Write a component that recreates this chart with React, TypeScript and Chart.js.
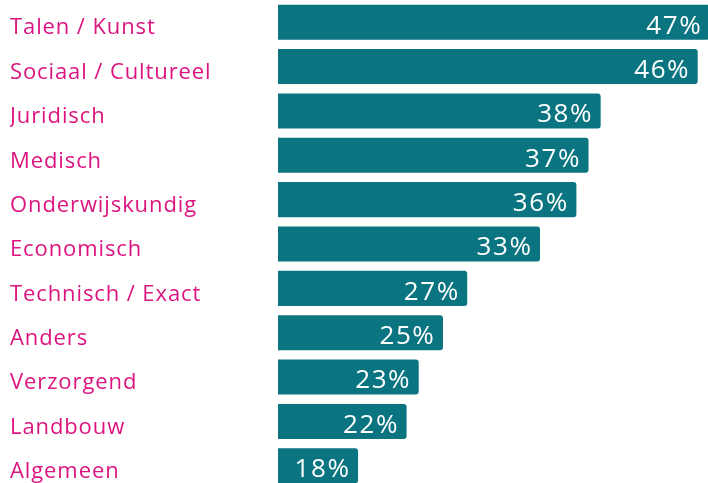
import React, { useEffect, useRef } from "react";
import { Chart, registerables } from "chart.js";

Chart.register(...registerables);

const categories = [
  "Talen / Kunst",
  "Sociaal / Cultureel",
  "Juridisch",
  "Medisch",
  "Onderwijskundig",
  "Economisch",
  "Technisch / Exact",
  "Anders",
  "Verzorgend",
  "Landbouw",
  "Algemeen",
];
const values = [47, 46, 38, 37, 36, 33, 27, 25, 23, 22, 18];

const BAR_COLOR = "#0A7580";
const LABEL_COLOR = "#DC147F";
const FONT = "'Open Sans', Lato, sans-serif";

const spacing = {
  id: "spacing",
  beforeDraw(chart: any) {
    chart.ctx.letterSpacing = "0.9px";
  },
};

const valueLabels = {
  id: "valueLabels",
  afterDatasetsDraw(chart: any) {
    const ctx = chart.ctx;
    const meta = chart.getDatasetMeta(0);
    ctx.save();
    ctx.letterSpacing = "1.6px";
    ctx.fillStyle = "#ffffff";
    ctx.font = `400 26px ${FONT}`;
    ctx.textAlign = "right";
    ctx.textBaseline = "middle";
    meta.data.forEach((bar: any, i: number) => {
      const v = chart.data.datasets[0].data[i];
      ctx.fillText(`${v}%`, bar.x - 7.5, bar.y + 4);
    });
    ctx.restore();
  },
};

export default function App() {
  const ref = useRef<HTMLCanvasElement>(null);
  useEffect(() => {
    document.body.style.margin = "0";
    const chart = new Chart(ref.current!, {
      type: "bar",
      data: {
        labels: categories,
        datasets: [
          {
            data: values,
            backgroundColor: BAR_COLOR,
            borderRadius: { topRight: 3, bottomRight: 3, topLeft: 0, bottomLeft: 0 },
            borderSkipped: false,
            categoryPercentage: 1,
            barPercentage: 0.79,
          },
        ],
      },
      options: {
        indexAxis: "y",
        responsive: false,
        animation: false,
        layout: { padding: { left: 10, top: 0, right: 0, bottom: 0 } },
        plugins: { legend: { display: false }, tooltip: { enabled: false } },
        scales: {
          x: {
            display: false,
            min: 11.4,
            max: 46.85,
          },
          y: {
            grid: { display: false, drawTicks: false },
            border: { display: false },
            ticks: {
              crossAlign: "far",
              color: LABEL_COLOR,
              font: { family: FONT, size: 22, weight: "400" },
              padding: 0,
              labelOffset: 6,
            },
            afterFit(scale: any) {
              scale.width = 268;
              scale.paddingTop = 0;
              scale.paddingBottom = 0;
            },
          },
        },
      },
      plugins: [spacing, valueLabels],
    });
    return () => chart.destroy();
  }, []);
  return (
    <div style={{ width: 708, height: 483, overflow: "hidden" }}>
      <canvas ref={ref} width={708} height={488} style={{ display: "block" }} />
    </div>
  );
}
